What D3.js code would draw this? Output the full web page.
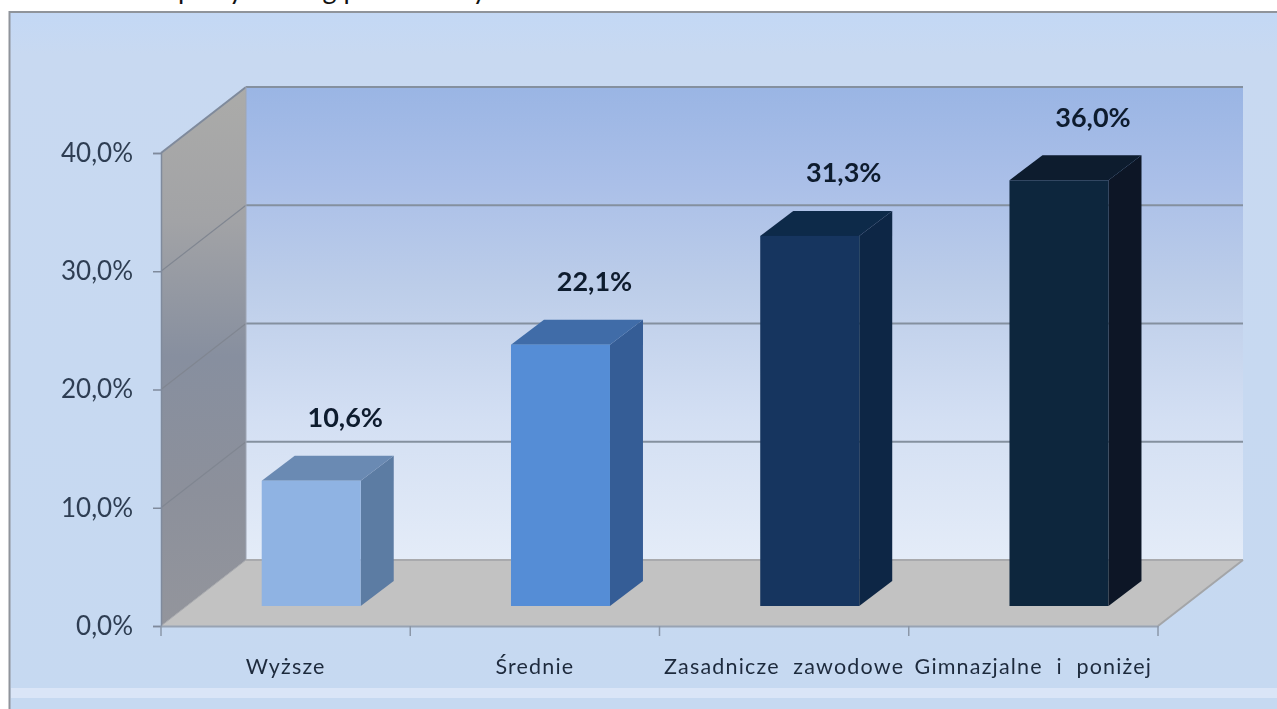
<!DOCTYPE html>
<html lang="pl">
<head>
<meta charset="utf-8">
<script src="https://cdn.jsdelivr.net/npm/d3@7/dist/d3.min.js"></script>
<style>
html,body{margin:0;padding:0;background:#fff;overflow:hidden}
svg{display:block}
text{font-family:Lato,"Noto Sans",sans-serif}
</style>
</head>
<body>
<svg id="chart" width="1277" height="709"></svg>
<script>
const categories = ["Wyższe", "Średnie", "Zasadnicze zawodowe", "Gimnazjalne i poniżej"];
const values = [10.6, 22.1, 31.3, 36.0];
const yTicks = [0, 10, 20, 30, 40];
const frontColors = ["#8fb3e3", "#548dd6", "#16365f", "#10253e"];
const sideColors = ["#5c7ba3", "#365d96", "#0e2744", "#0a1727"];
const topColors = ["#6b8ab3", "#3f6ca8", "#11294a", "#0b1a2e"];
const titleText = "pracy według poziomu wykształcenia";

const fmt = v => d3.format(".1f")(v).replace(".", ",") + "%";
const svg = d3.select("#chart");
const defs = svg.append("defs");

function linGrad(id, x1, y1, x2, y2, stops) {
  const g = defs.append("linearGradient").attr("id", id)
    .attr("x1", x1).attr("y1", y1).attr("x2", x2).attr("y2", y2);
  stops.forEach(s => g.append("stop").attr("offset", s[0]).attr("stop-color", s[1]));
}
linGrad("panel", 0, 0, 0, 1, [[0, "#c3d8f5"], [0.06, "#c8d9f1"], [1, "#c6d9f1"]]);
linGrad("wall", 0, 0, 0, 1, [[0, "#9ab5e4"], [0.2, "#aabfe8"], [0.42, "#bccde9"], [0.7, "#d3dff3"], [1, "#e4ecf8"]]);
linGrad("leftWall", 0, 0, 0, 1, [[0, "#ababa9"], [0.25, "#a2a3a6"], [0.5, "#878f9f"], [0.75, "#8c909b"], [1, "#93959c"]]);
defs.append("filter").attr("id", "soft").attr("x", "-2%").attr("y", "-5%").attr("width", "104%").attr("height", "110%")
  .append("feGaussianBlur").attr("stdDeviation", 0.6);

const x = d3.scaleBand().domain(categories).range([161, 1158]);
const y = d3.scaleLinear().domain([0, 40]).range([626, 153]);
const wallDx = 85, wallDy = -66;
const barW = 99, barDx = 33, barDy = -25, barShiftX = 25.6, barShiftY = -20;
const path = pts => "M" + pts.map(p => p.join(",")).join("L") + "Z";

const [x0, x1] = x.range();

// clipped title at the very top edge
svg.append("text").attr("x", 178).attr("y", -1).attr("font-size", 27).attr("fill", "#111").text(titleText);

// panel
svg.append("rect").attr("x", 9.5).attr("y", 12).attr("width", 1270).attr("height", 700)
  .attr("fill", "url(#panel)").attr("stroke", "#8f949b").attr("stroke-width", 2);
svg.append("rect").attr("x", 11).attr("y", 688).attr("width", 1266).attr("height", 10).attr("fill", "#dae5f7");

const plot = svg.append("g").attr("filter", "url(#soft)");

// back wall
plot.append("rect").attr("x", x0 + wallDx).attr("y", y(40) + wallDy)
  .attr("width", x1 - x0).attr("height", y(0) - y(40)).attr("fill", "url(#wall)");
// left wall
plot.append("path").attr("fill", "url(#leftWall)")
  .attr("d", path([[x0, y(40)], [x0 + wallDx, y(40) + wallDy], [x0 + wallDx, y(0) + wallDy], [x0, y(0)]]));
// floor
plot.append("path").attr("fill", "#c2c2c2")
  .attr("d", path([[x0, y(0)], [x0 + wallDx, y(0) + wallDy], [x1 + wallDx, y(0) + wallDy], [x1, y(0)]]));

// grid lines on back wall and left wall
plot.append("g").selectAll("line").data(yTicks.slice(1)).join("line")
  .attr("x1", x0 + wallDx).attr("x2", x1 + wallDx)
  .attr("y1", d => y(d) + wallDy).attr("y2", d => y(d) + wallDy)
  .attr("stroke", "#84909f").attr("stroke-width", 2);
plot.append("g").selectAll("line").data(yTicks.slice(1)).join("line")
  .attr("x1", x0).attr("x2", x0 + wallDx)
  .attr("y1", d => y(d)).attr("y2", d => y(d) + wallDy)
  .attr("stroke", d => d === 40 ? "#7f8a9c" : "#808691").attr("stroke-width", d => d === 40 ? 2 : 1.2);
plot.append("line").attr("x1", x0 + wallDx).attr("x2", x0 + wallDx)
  .attr("y1", y(40) + wallDy).attr("y2", y(0) + wallDy).attr("stroke", "#9fa6b4").attr("stroke-width", 1);
plot.append("line").attr("x1", x0 + wallDx).attr("x2", x1 + wallDx)
  .attr("y1", y(0) + wallDy).attr("y2", y(0) + wallDy).attr("stroke", "#a9aaad").attr("stroke-width", 2);
plot.append("line").attr("x1", x1).attr("x2", x1 + wallDx)
  .attr("y1", y(0)).attr("y2", y(0) + wallDy).attr("stroke", "#a3a5a8").attr("stroke-width", 2);
plot.append("line").attr("x1", x0).attr("x2", x0 + wallDx)
  .attr("y1", y(0)).attr("y2", y(0) + wallDy).attr("stroke", "#a8a9ac").attr("stroke-width", 1);

// bars
const bars = plot.append("g").selectAll("g").data(categories).join("g");
const left = c => x(c) + x.bandwidth() / 2 + barShiftX - barW / 2;
const val = c => values[categories.indexOf(c)];
const base = y(0) + barShiftY;
const topY = c => y(val(c)) + barShiftY;
bars.append("path").attr("fill", (c, i) => sideColors[i])
  .attr("d", c => path([[left(c) + barW, topY(c)], [left(c) + barW + barDx, topY(c) + barDy], [left(c) + barW + barDx, base + barDy], [left(c) + barW, base]]));
bars.append("path").attr("fill", (c, i) => topColors[i])
  .attr("d", c => path([[left(c), topY(c)], [left(c) + barDx, topY(c) + barDy], [left(c) + barW + barDx, topY(c) + barDy], [left(c) + barW, topY(c)]]));
bars.append("rect").attr("fill", (c, i) => frontColors[i])
  .attr("x", left).attr("y", topY).attr("width", barW).attr("height", c => base - topY(c));

// axes
const axes = svg.append("g").attr("filter", "url(#soft)");
const yAxis = d3.axisLeft(y).tickValues(yTicks).tickFormat(fmt).tickSize(8).tickPadding(20);
const gy = axes.append("g").attr("transform", `translate(${x0},0)`).call(yAxis);
gy.select(".domain").attr("stroke", "#7f8a9c").attr("stroke-width", 1.5);
gy.selectAll(".tick line").attr("stroke", "#7f8a9c").attr("stroke-width", 1.5);
gy.selectAll("text").attr("font-size", 26).attr("fill", "#2f3e52").attr("font-family", "Lato");

const xAxis = d3.axisBottom(x).tickSize(0).tickPadding(0);
const gx = axes.append("g").attr("transform", `translate(0,${y(0)})`).call(xAxis);
gx.select(".domain").attr("stroke", "#98a3b3").attr("stroke-width", 2);
gx.selectAll("text").attr("y", 41).attr("dy", "0.32em").attr("font-size", 21.5)
  .attr("letter-spacing", "0.055em").attr("word-spacing", "7px").attr("fill", "#1e2a3c").attr("font-family", "Lato");
axes.append("g").selectAll("line").data(categories.map(c => x(c)).concat([x1])).join("line")
  .attr("x1", d => d).attr("x2", d => d).attr("y1", y(0)).attr("y2", y(0) + 10)
  .attr("stroke", "#8b97a8").attr("stroke-width", 1.5);

// value labels
axes.append("g").selectAll("text").data(categories).join("text")
  .attr("x", c => left(c) + barW / 2 + barDx + 1)
  .attr("y", c => topY(c) - 63).attr("dy", "0.35em").attr("text-anchor", "middle")
  .attr("font-size", 27).attr("font-weight", 700).attr("fill", "#111b2e")
  .text(c => fmt(val(c)));
</script>
</body>
</html>
